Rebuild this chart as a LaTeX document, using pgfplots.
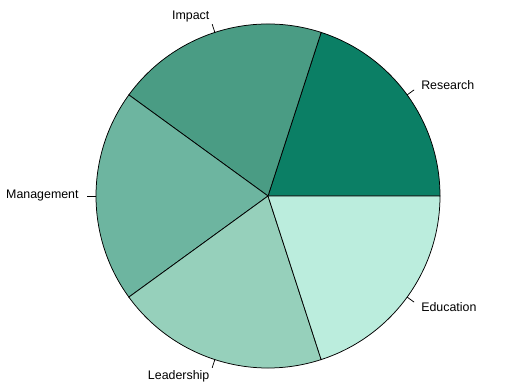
\documentclass[border=0pt]{standalone}
\usepackage{pgfplots}
\pgfplotsset{compat=1.18}
\usepackage{fontspec}
\setmainfont{Liberation Sans}
\definecolor{cA}{RGB}{11,127,101}
\definecolor{cB}{RGB}{74,156,132}
\definecolor{cC}{RGB}{109,181,160}
\definecolor{cD}{RGB}{150,208,187}
\definecolor{cE}{RGB}{187,237,221}
% slice values (equal shares)
\def\vA{1}\def\vB{1}\def\vC{1}\def\vD{1}\def\vE{1}
\pgfmathsetmacro{\tot}{\vA+\vB+\vC+\vD+\vE}
\pgfmathsetmacro{\aA}{0}
\pgfmathsetmacro{\aB}{\aA+360*\vA/\tot}
\pgfmathsetmacro{\aC}{\aB+360*\vB/\tot}
\pgfmathsetmacro{\aD}{\aC+360*\vC/\tot}
\pgfmathsetmacro{\aE}{\aD+360*\vD/\tot}
\pgfmathsetmacro{\aF}{\aE+360*\vE/\tot}
\def\R{172}
\begin{document}
\begin{tikzpicture}
\begin{axis}[
  scale only axis, width=532bp, height=389bp,
  xmin=-268, xmax=264, ymin=-193, ymax=196,
  hide axis, clip=false,
  font=\fontsize{12.4bp}{14bp}\selectfont,
]
\path (rel axis cs:0,0) rectangle (rel axis cs:1,1);
\draw[fill=cA, line width=0.75bp] (axis cs:0,0) -- (axis cs:{\R*cos(\aA)},{\R*sin(\aA)}) arc[start angle=\aA, end angle=\aB, radius=\R] -- cycle;
\draw[fill=cB, line width=0.75bp] (axis cs:0,0) -- (axis cs:{\R*cos(\aB)},{\R*sin(\aB)}) arc[start angle=\aB, end angle=\aC, radius=\R] -- cycle;
\draw[fill=cC, line width=0.75bp] (axis cs:0,0) -- (axis cs:{\R*cos(\aC)},{\R*sin(\aC)}) arc[start angle=\aC, end angle=\aD, radius=\R] -- cycle;
\draw[fill=cD, line width=0.75bp] (axis cs:0,0) -- (axis cs:{\R*cos(\aD)},{\R*sin(\aD)}) arc[start angle=\aD, end angle=\aE, radius=\R] -- cycle;
\draw[fill=cE, line width=0.75bp] (axis cs:0,0) -- (axis cs:{\R*cos(\aE)},{\R*sin(\aE)}) arc[start angle=\aE, end angle=\aF, radius=\R] -- cycle;
% label ticks and labels
\pgfmathsetmacro{\mA}{(\aA+\aB)/2}
\pgfmathsetmacro{\mB}{(\aB+\aC)/2}
\pgfmathsetmacro{\mC}{(\aC+\aD)/2}
\pgfmathsetmacro{\mD}{(\aD+\aE)/2}
\pgfmathsetmacro{\mE}{(\aE+\aF)/2}
\draw[line width=0.75bp] (axis cs:{\R*cos(\mA)},{\R*sin(\mA)}) -- (axis cs:{1.05*\R*cos(\mA)},{1.05*\R*sin(\mA)});
\draw[line width=0.75bp] (axis cs:{\R*cos(\mB)},{\R*sin(\mB)}) -- (axis cs:{1.05*\R*cos(\mB)},{1.05*\R*sin(\mB)});
\draw[line width=0.75bp] (axis cs:{\R*cos(\mC)},{\R*sin(\mC)}) -- (axis cs:{1.05*\R*cos(\mC)},{1.05*\R*sin(\mC)});
\draw[line width=0.75bp] (axis cs:{\R*cos(\mD)},{\R*sin(\mD)}) -- (axis cs:{1.05*\R*cos(\mD)},{1.05*\R*sin(\mD)});
\draw[line width=0.75bp] (axis cs:{\R*cos(\mE)},{\R*sin(\mE)}) -- (axis cs:{1.05*\R*cos(\mE)},{1.05*\R*sin(\mE)});
\node[anchor=west, inner sep=0pt] at (axis cs:{1.1*\R*cos(\mA)},{1.1*\R*sin(\mA)}) {Research};
\node[anchor=east, inner sep=0pt] at (axis cs:{1.1*\R*cos(\mB)},{1.1*\R*sin(\mB)}) {Impact};
\node[anchor=east, inner sep=0pt] at (axis cs:{1.1*\R*cos(\mC)},{1.1*\R*sin(\mC)}) {Management};
\node[anchor=east, inner sep=0pt] at (axis cs:{1.1*\R*cos(\mD)},{1.1*\R*sin(\mD)}) {Leadership};
\node[anchor=west, inner sep=0pt] at (axis cs:{1.1*\R*cos(\mE)},{1.1*\R*sin(\mE)}) {Education};
\end{axis}
\end{tikzpicture}
\end{document}
